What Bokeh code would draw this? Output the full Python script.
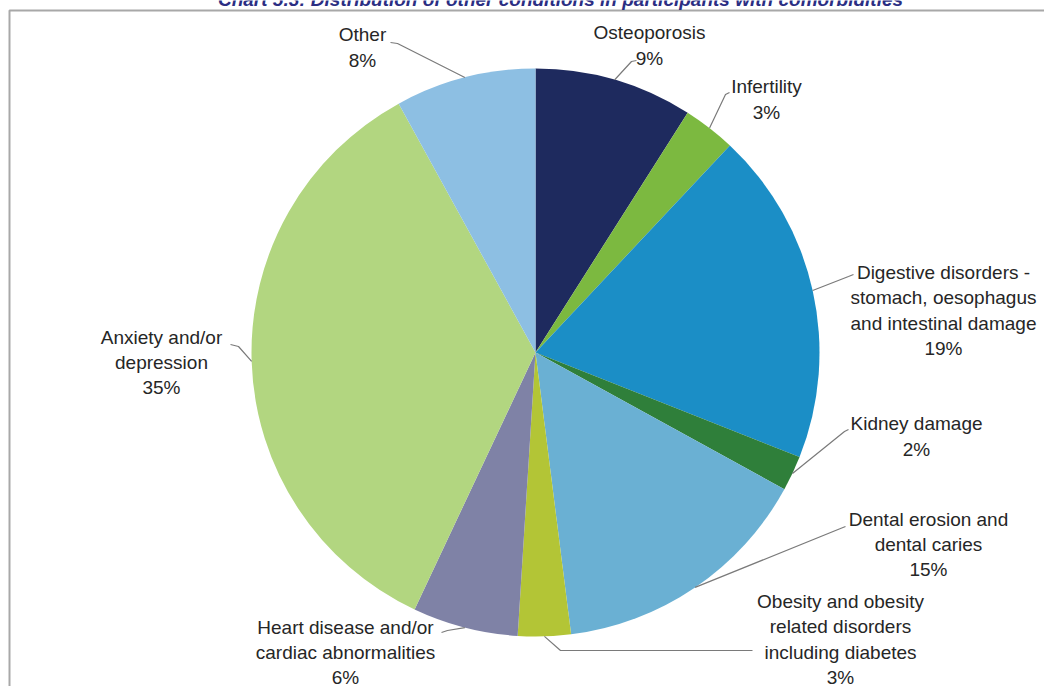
import math
from bokeh.plotting import figure
from bokeh.models import ColumnDataSource, Range1d
from bokeh.embed import file_html
from bokeh.resources import INLINE
from bokeh.core.properties import value

# ---- data ----
title_text = "Chart 5.3: Distribution of other conditions in participants with comorbidities"
categories = [
    "Osteoporosis",
    "Infertility",
    "Digestive disorders -\nstomach, oesophagus\nand intestinal damage",
    "Kidney damage",
    "Dental erosion and\ndental caries",
    "Obesity and obesity\nrelated disorders\nincluding diabetes",
    "Heart disease and/or\ncardiac abnormalities",
    "Anxiety and/or\ndepression",
    "Other",
]
percentages = [9, 3, 19, 2, 15, 3, 6, 35, 8]
colors = ["#1E2A5E", "#7CB940", "#1B8EC6", "#2F7F3A", "#6AB0D3",
          "#B3C536", "#7F82A6", "#B2D680", "#8DBFE3"]

# ---- layout (reference pixel coordinates; y measured downward) ----
CX, CY, R = 535, 352, 284
label_pos = [(649, 45), (766, 99), (943, 310), (916, 436), (928, 544),
             (840, 639), (345, 652), (161, 362), (362, 47)]
leader_text_side = [
    [(636, 60), (631, 61)],
    [(729, 92), (725, 94)],
    [(853, 274), (848, 276)],
    [(848, 429), (844, 431)],
    [(845, 526), (840, 528)],
    [(752, 650), (560, 650)],
    [(441, 632), (447, 630)],
    [(230, 344), (238, 346)],
    [(390, 42), (397, 43)],
]

W, H = 1044, 686
p = figure(width=W, height=H, x_range=Range1d(0, W), y_range=Range1d(-H, 0),
           output_backend="svg", toolbar_location=None, min_border=0)
p.axis.visible = False
p.grid.visible = False
p.outline_line_color = None
p.background_fill_color = "white"
p.border_fill_color = "white"

# frame (gray border of the original chart box)
p.line(x=[9, 9, 1100], y=[-760, -10, -10], line_color="#A8A8A8", line_width=2)

# title (cut off at the top, as in the source)
p.text(x=[560], y=[1], text=[title_text], text_align="center", text_baseline="alphabetic",
       text_font=value("Liberation Sans"), text_font_size="19px", text_font_style="bold italic",
       text_color="#2B2E83")

total = float(sum(percentages))
starts, ends, mids = [], [], []
cum = 0.0
for v in percentages:
    a0 = cum / total
    cum += v
    a1 = cum / total
    # clockwise from 12 o'clock
    starts.append(math.pi / 2 - 2 * math.pi * a1)
    ends.append(math.pi / 2 - 2 * math.pi * a0)
    mids.append((a0 + a1) / 2)

src = ColumnDataSource(dict(start=starts, end=ends, color=colors,
                            name=categories, pct=percentages))
p.wedge(x=CX, y=-CY, radius=R, start_angle="start", end_angle="end",
        fill_color="color", line_color=None, source=src)

# leader lines
xs, ys = [], []
for m, pts in zip(mids, leader_text_side):
    ang = 2 * math.pi * m
    ex = CX + R * math.sin(ang)
    ey = CY - R * math.cos(ang)
    xs.append([pts[0][0], pts[1][0], ex])
    ys.append([-pts[0][1], -pts[1][1], -ey])
p.multi_line(xs=xs, ys=ys, line_color="#7A7A7A", line_width=1.2)

# labels
texts = [f"{c}\n{v}%" for c, v in zip(categories, percentages)]
lsrc = ColumnDataSource(dict(x=[q[0] for q in label_pos], y=[-q[1] for q in label_pos], t=texts))
p.text(x="x", y="y", text="t", source=lsrc, text_align="center", text_baseline="middle",
       text_font=value("Liberation Sans"), text_font_size="19px", text_color="#262626",
       text_line_height=1.2)

open("out.html", "w").write(file_html(p, INLINE))
